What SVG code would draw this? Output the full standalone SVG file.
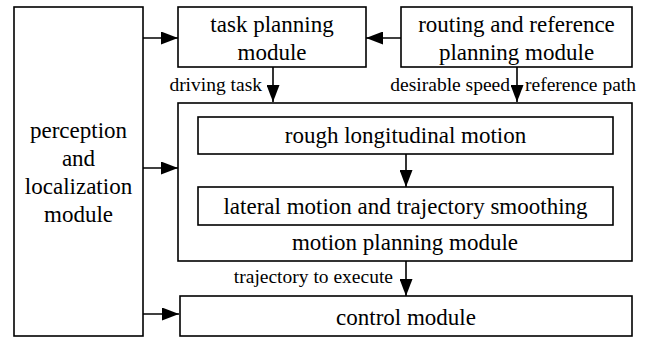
<svg xmlns="http://www.w3.org/2000/svg" width="647" height="339" viewBox="0 0 647 339" font-family="Liberation Serif, Times New Roman, serif">
<style>
.box{fill:#fff;stroke:#000;stroke-width:1.6}
.t{font-size:23px;fill:#000;text-anchor:middle}
.l{font-size:19.5px;fill:#000}
.c{stroke:#000;stroke-width:1.6;fill:none;marker-end:url(#ah)}
</style>
<defs>
<marker id="ah" markerUnits="userSpaceOnUse" markerWidth="17" markerHeight="13" refX="17" refY="6.5" orient="auto">
<path d="M0,0 L17,6.5 L0,13 z" fill="#000"/>
</marker>
</defs>
<rect width="647" height="339" fill="#fff"/>
<g id="perception">
<rect class="box" x="14" y="7" width="129" height="329"/>
<text class="t" x="78.5" y="138" font-family="Liberation Serif, serif">perception</text>
<text class="t" x="78.5" y="166" font-family="Liberation Serif, serif">and</text>
<text class="t" x="78.5" y="194" font-family="Liberation Serif, serif">localization</text>
<text class="t" x="78.5" y="222" font-family="Liberation Serif, serif">module</text>
</g>
<g id="task">
<rect class="box" x="178" y="7" width="188" height="60"/>
<text class="t" x="272" y="32" font-family="Liberation Serif, serif">task planning</text>
<text class="t" x="272" y="60" font-family="Liberation Serif, serif">module</text>
</g>
<g id="routing">
<rect class="box" x="401" y="7" width="231" height="60"/>
<text class="t" x="516.5" y="32" font-family="Liberation Serif, serif">routing and reference</text>
<text class="t" x="516.5" y="60" font-family="Liberation Serif, serif">planning module</text>
</g>
<g id="motion">
<rect class="box" x="178" y="103" width="454" height="158"/>
<text class="t" x="405" y="250" font-family="Liberation Serif, serif">motion planning module</text>
</g>
<g id="rough">
<rect class="box" x="198" y="117" width="415" height="37"/>
<text class="t" x="405.5" y="143" font-family="Liberation Serif, serif">rough longitudinal motion</text>
</g>
<g id="lateral">
<rect class="box" x="198" y="187" width="415" height="38"/>
<text class="t" x="405.5" y="214" font-family="Liberation Serif, serif">lateral motion and trajectory smoothing</text>
</g>
<g id="control">
<rect class="box" x="180" y="296" width="452" height="40"/>
<text class="t" x="406" y="325" font-family="Liberation Serif, serif">control module</text>
</g>
<g id="connectors">
<line class="c" x1="143" y1="38" x2="178" y2="38"/>
<line class="c" x1="401" y1="38" x2="366" y2="38"/>
<line class="c" x1="143" y1="168" x2="178" y2="168"/>
<line class="c" x1="143" y1="314" x2="179" y2="314"/>
<line class="c" x1="273" y1="67" x2="273" y2="102"/>
<line class="c" x1="517" y1="67" x2="517" y2="102"/>
<line class="c" x1="406" y1="154" x2="406" y2="187"/>
<line class="c" x1="406" y1="261" x2="406" y2="296"/>
<text class="l" x="262" y="91" text-anchor="end" font-family="Liberation Serif, serif">driving task</text>
<text class="l" x="510" y="91" text-anchor="end" font-family="Liberation Serif, serif">desirable speed</text>
<text class="l" x="525" y="91" font-family="Liberation Serif, serif">reference path</text>
<text class="l" x="393" y="283" text-anchor="end" font-family="Liberation Serif, serif">trajectory to execute</text>
</g>
</svg>
